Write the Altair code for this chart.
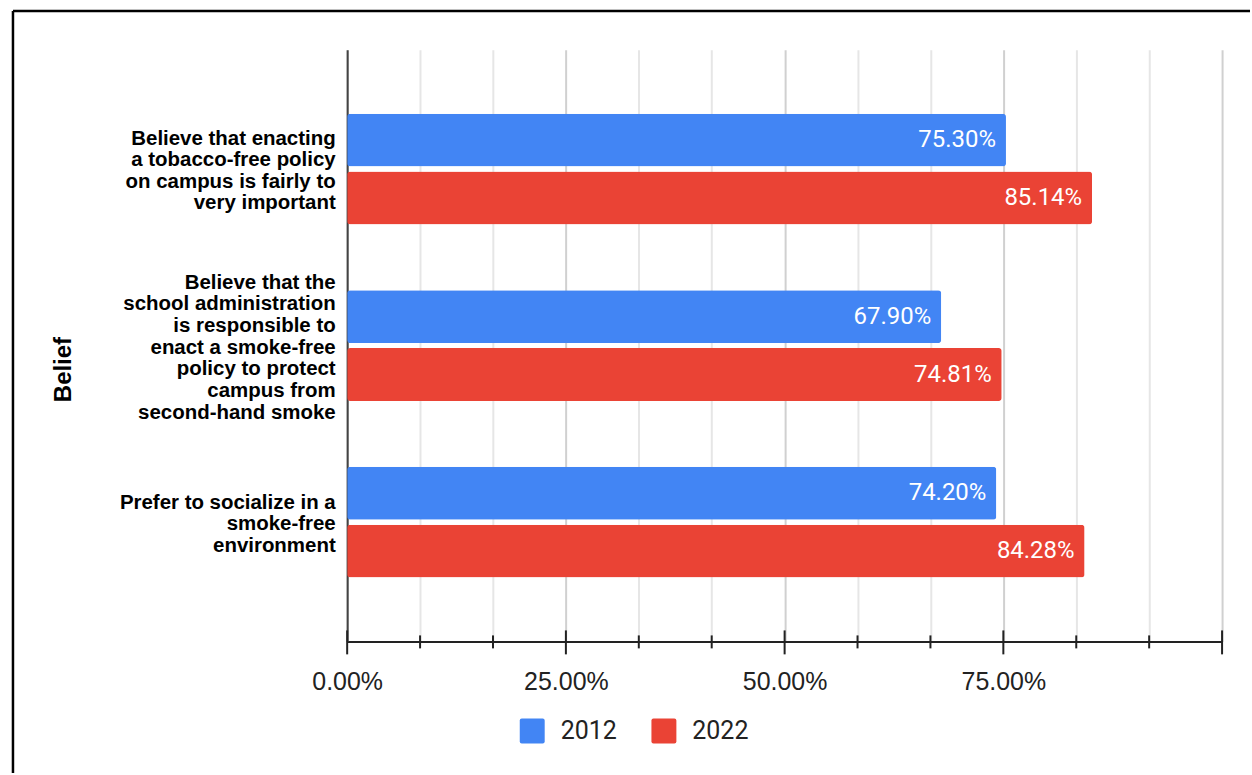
import altair as alt
import pandas as pd

categories = [
    "Believe that enacting|a tobacco-free policy|on campus is fairly to|very important",
    "Believe that the|school administration|is responsible to|enact a smoke-free|policy to protect|campus from|second-hand smoke",
    "Prefer to socialize in a|smoke-free|environment",
]
years = ["2012", "2022"]
values_2012 = [0.7530, 0.6790, 0.7420]
values_2022 = [0.8514, 0.7481, 0.8428]
colors = ["#4285F4", "#EA4335"]

grid_values = [0, 1/12, 2/12, 3/12, 4/12, 5/12, 6/12, 7/12, 8/12, 9/12, 10/12, 11/12, 1.0]
major_ticks = [0, 0.25, 0.5, 0.75, 1.0]
minor_ticks = [1/12, 2/12, 4/12, 5/12, 7/12, 8/12, 10/12, 11/12]

rows = []
for yr, vals in zip(years, [values_2012, values_2022]):
    for c, v in zip(categories, vals):
        rows.append({"belief": c, "year": yr, "value": v})
df = pd.DataFrame(rows)

LINE_H = 21.7

x_scale = alt.Scale(domain=[0, 1], nice=False, zero=True)
y_scale = alt.Scale(domain=categories, paddingInner=0.373, paddingOuter=0.3616)
yoff_scale = alt.Scale(paddingInner=0.086, paddingOuter=0)

x_axis = alt.Axis(
    values=grid_values,
    labelExpr="(datum.value < 0.99 && abs(datum.value*4 - round(datum.value*4)) < 0.001) ? format(datum.value, '.2%') : ''",
    ticks=False,
    grid=True,
    gridColor={"condition": {"test": "abs(datum.value*4 - round(datum.value*4)) < 0.001", "value": "#d0d0d0"}, "value": "#e6e6e6"},
    gridWidth=2,
    domainColor="#222222",
    domainWidth=2,
    labelFont="Liberation Sans",
    labelFontSize=25,
    labelColor="#222222",
    labelPadding=28,
    labelOverlap=False,
    labelFlush=False,
    labelBound=False,
    title=None,
)

y_axis = alt.Axis(
    title="Belief",
    titleFont="Liberation Sans",
    titleFontSize=24,
    titleFontWeight="bold",
    titleColor="#000000",
    titleX=-277,
    titleY=320,
    titleBaseline="alphabetic",
    labelExpr="split(datum.label, '|')",
    labelFont="Liberation Sans",
    labelFontSize=20.5,
    labelFontWeight="bold",
    labelColor="#000000",
    labelLineHeight=LINE_H,
    labelBaseline="middle",
    labelOffset={
        "condition": [
            {"test": "length(split(datum.value, '|')) == 7", "value": -3 * LINE_H + 2},
            {"test": "length(split(datum.value, '|')) == 4", "value": -1.5 * LINE_H + 2},
        ],
        "value": -1 * LINE_H + 2,
    },
    labelPadding=12,
    labelLimit=400,
    ticks=False,
    grid=False,
    domainColor="#444444",
    domainWidth=2,
)

legend_symbol = "M-0.84,-1 H0.84 Q1,-1 1,-0.84 V0.84 Q1,1 0.84,1 H-0.84 Q-1,1 -1,0.84 V-0.84 Q-1,-1 -0.84,-1 Z"

base = alt.Chart(df)

bars = base.mark_bar(cornerRadius=3).encode(
    x=alt.X("value:Q", scale=x_scale, axis=x_axis),
    y=alt.Y("belief:N", scale=y_scale, axis=y_axis, sort=categories),
    yOffset=alt.YOffset("year:N", scale=yoff_scale, sort=years),
    color=alt.Color(
        "year:N",
        scale=alt.Scale(domain=years, range=colors),
        legend=alt.Legend(
            title=None,
            orient="none",
            legendX=173,
            legendY=670,
            direction="horizontal",
            symbolType=legend_symbol,
            symbolSize=625,
            symbolStrokeWidth=0,
            symbolOpacity=1,
            labelFont="Roboto",
            labelFontSize=25,
            labelColor="#222222",
            labelOffset=16,
            columnPadding=34,
            padding=0,
        ),
    ),
)

labels = base.mark_text(
    align="right", baseline="middle", dx=-10, color="white", font="Roboto", fontSize=24
).encode(
    x=alt.X("value:Q", scale=x_scale),
    y=alt.Y("belief:N", scale=y_scale, sort=categories),
    yOffset=alt.YOffset("year:N", scale=yoff_scale, sort=years),
    text=alt.Text("value:Q", format=".2%"),
)

major = alt.Chart(pd.DataFrame({"value": major_ticks})).mark_rule(color="#222222", strokeWidth=2).encode(
    x=alt.X("value:Q", scale=x_scale),
    y=alt.value(582),
    y2=alt.value(606),
)
minor = alt.Chart(pd.DataFrame({"value": minor_ticks})).mark_rule(color="#222222", strokeWidth=2).encode(
    x=alt.X("value:Q", scale=x_scale),
    y=alt.value(587),
    y2=alt.value(600),
)

frame_df = pd.DataFrame({"a": [0]})
frame_top = alt.Chart(frame_df).mark_rule(color="#000000", strokeWidth=2.5).encode(
    x=alt.value(-335), x2=alt.value(905), y=alt.value(-39)
)
frame_left = alt.Chart(frame_df).mark_rule(color="#000000", strokeWidth=2.5).encode(
    x=alt.value(-335), y=alt.value(-39), y2=alt.value(725)
)

chart = alt.layer(bars, labels, major, minor, frame_top, frame_left).properties(
    width=877,
    height=593,
    padding={"left": 11, "top": 8, "right": 0, "bottom": 0},
    background="white",
).configure_view(stroke=None)

chart.save("out.html", embed_options={"renderer": "svg", "actions": False})
